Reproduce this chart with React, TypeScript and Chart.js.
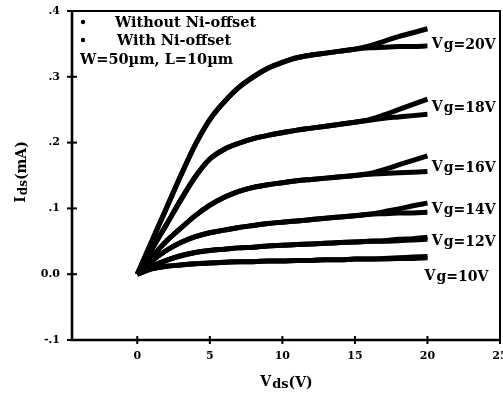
import React, { useEffect, useRef } from "react";
import { Chart, registerables } from "chart.js";

Chart.register(...registerables);

const vds = [0, 1, 2, 3, 4, 5, 6, 7, 8, 9, 10, 11, 12, 13, 14, 15, 16, 17, 18, 19, 20];

const without20 = [0, 0.05, 0.1, 0.15, 0.197, 0.235, 0.262, 0.284, 0.3, 0.313, 0.322, 0.329, 0.333, 0.336, 0.339, 0.342, 0.347, 0.354, 0.361, 0.367, 0.373];
const with20 = [0, 0.05, 0.1, 0.15, 0.197, 0.235, 0.262, 0.284, 0.3, 0.313, 0.322, 0.329, 0.333, 0.336, 0.339, 0.342, 0.344, 0.345, 0.346, 0.346, 0.347];
const without18 = [0, 0.038, 0.075, 0.113, 0.148, 0.175, 0.19, 0.199, 0.206, 0.211, 0.215, 0.219, 0.222, 0.225, 0.228, 0.231, 0.235, 0.242, 0.25, 0.258, 0.266];
const with18 = [0, 0.038, 0.075, 0.113, 0.148, 0.175, 0.19, 0.199, 0.206, 0.211, 0.215, 0.219, 0.222, 0.225, 0.228, 0.231, 0.234, 0.237, 0.239, 0.241, 0.243];
const without16 = [0, 0.026, 0.05, 0.07, 0.089, 0.105, 0.117, 0.126, 0.132, 0.136, 0.139, 0.142, 0.144, 0.146, 0.148, 0.15, 0.153, 0.159, 0.166, 0.173, 0.18];
const with16 = [0, 0.026, 0.05, 0.07, 0.089, 0.105, 0.117, 0.126, 0.132, 0.136, 0.139, 0.142, 0.144, 0.146, 0.148, 0.15, 0.152, 0.153, 0.154, 0.155, 0.156];
const without14 = [0, 0.02, 0.036, 0.048, 0.057, 0.063, 0.067, 0.071, 0.074, 0.077, 0.079, 0.081, 0.083, 0.085, 0.087, 0.089, 0.091, 0.095, 0.099, 0.104, 0.108];
const with14 = [0, 0.02, 0.036, 0.048, 0.057, 0.063, 0.067, 0.071, 0.074, 0.077, 0.079, 0.081, 0.083, 0.085, 0.087, 0.089, 0.091, 0.092, 0.093, 0.093, 0.094];
const without12 = [0, 0.012, 0.021, 0.028, 0.033, 0.036, 0.038, 0.04, 0.041, 0.043, 0.044, 0.045, 0.046, 0.047, 0.048, 0.049, 0.05, 0.051, 0.053, 0.054, 0.056];
const with12 = [0, 0.012, 0.021, 0.028, 0.033, 0.036, 0.038, 0.04, 0.041, 0.043, 0.044, 0.045, 0.046, 0.047, 0.048, 0.049, 0.05, 0.05, 0.051, 0.052, 0.053];
const without10 = [0, 0.008, 0.012, 0.014, 0.016, 0.017, 0.018, 0.019, 0.019, 0.02, 0.02, 0.021, 0.021, 0.022, 0.022, 0.023, 0.023, 0.024, 0.025, 0.026, 0.027];
const with10 = [0, 0.008, 0.012, 0.014, 0.016, 0.017, 0.018, 0.019, 0.019, 0.02, 0.02, 0.021, 0.021, 0.022, 0.022, 0.023, 0.023, 0.023, 0.024, 0.024, 0.025];

const seriesList = [without20, with20, without18, with18, without16, with16, without14, with14, without12, with12, without10, with10];

const xTicks = [0, 5, 10, 15, 20, 25];
const yTicks = [-0.1, 0, 0.1, 0.2, 0.3, 0.4];
const yTickLabels = ["-.1", "0.0", ".1", ".2", ".3", ".4"];

const gateLabels = ["g=20V", "g=18V", "g=16V", "g=14V", "g=12V", "g=10V"];
const gateLabelX = [20.3, 20.3, 20.3, 20.3, 20.3, 19.8];
const gateLabelY = [0.35, 0.253, 0.162, 0.099, 0.05, -0.003];

const legendLines = ["Without Ni-offset", "With Ni-offset", "W=50\u00b5m, L=10\u00b5m"];

const FONT = "'DejaVu Serif'";

const overlay = {
  id: "overlay",
  afterDraw(chart: any) {
    const { ctx, chartArea: a, scales } = chart;
    const xs = scales.x;
    const ys = scales.y;
    ctx.save();
    ctx.strokeStyle = "#000";
    ctx.lineWidth = 2;
    ctx.beginPath();
    ctx.moveTo(a.left, a.top);
    ctx.lineTo(a.right, a.top);
    ctx.lineTo(a.right, a.bottom);
    ctx.stroke();
    ctx.lineWidth = 2.6;
    ctx.beginPath();
    ctx.moveTo(a.left, a.top);
    ctx.lineTo(a.left, a.bottom);
    ctx.lineTo(a.right, a.bottom);
    ctx.stroke();
    ctx.lineWidth = 2;
    xTicks.forEach((v) => {
      const px = xs.getPixelForValue(v);
      ctx.beginPath();
      ctx.moveTo(px, a.bottom - 4);
      ctx.lineTo(px, a.bottom + 4);
      ctx.stroke();
    });
    yTicks.forEach((v) => {
      const py = ys.getPixelForValue(v);
      ctx.beginPath();
      ctx.moveTo(a.left - 5, py);
      ctx.lineTo(a.left + 5, py);
      ctx.stroke();
    });
    ctx.fillStyle = "#000";
    ctx.textBaseline = "middle";
    ctx.font = `bold 14.5px ${FONT}`;
    ctx.textAlign = "left";
    ctx.beginPath();
    ctx.arc(83, 22, 2.2, 0, Math.PI * 2);
    ctx.fill();
    ctx.beginPath();
    ctx.arc(83, 40, 2.2, 0, Math.PI * 2);
    ctx.fill();
    ctx.fillText(legendLines[0], 115, 23);
    ctx.fillText(legendLines[1], 117, 41);
    ctx.fillText(legendLines[2], 80, 60);
    ctx.font = `bold 14px ${FONT}`;
    gateLabels.forEach((t, i) => {
      const px = xs.getPixelForValue(gateLabelX[i]);
      const py = ys.getPixelForValue(gateLabelY[i]);
      ctx.fillText("V", px, py);
      ctx.fillText(t, px + 12, py + 1);
    });
    ctx.font = `bold 14px ${FONT}`;
    const cx = (a.left + a.right) / 2;
    const vW = ctx.measureText("V").width;
    ctx.font = `bold 13px ${FONT}`;
    const dsW = ctx.measureText("ds").width;
    ctx.font = `bold 14px ${FONT}`;
    const restW = ctx.measureText("(V)").width;
    let sx = cx - (vW + dsW + restW) / 2;
    ctx.fillText("V", sx, 382);
    ctx.font = `bold 13px ${FONT}`;
    ctx.fillText("ds", sx + vW + 1, 385);
    ctx.font = `bold 14px ${FONT}`;
    ctx.fillText("(V)", sx + vW + dsW + 1, 383);

    ctx.translate(22, (a.top + a.bottom) / 2 - 3);
    ctx.rotate(-Math.PI / 2);
    ctx.font = `bold 14px ${FONT}`;
    const iW = ctx.measureText("I").width;
    ctx.font = `bold 12px ${FONT}`;
    const ds2 = ctx.measureText("ds").width;
    ctx.font = `bold 14px ${FONT}`;
    const mA = ctx.measureText("(mA)").width;
    sx = -(iW + ds2 + mA) / 2;
    ctx.fillText("I", sx, -1);
    ctx.font = `bold 12px ${FONT}`;
    ctx.fillText("ds", sx + iW + 1, 2);
    ctx.font = `bold 14px ${FONT}`;
    ctx.fillText("(mA)", sx + iW + ds2 + 1, 0);
    ctx.restore();
  },
};

export default function App() {
  const ref = useRef<HTMLCanvasElement | null>(null);
  useEffect(() => {
    if (!ref.current) return;
    const chart = new Chart(ref.current, {
      type: "line",
      data: {
        datasets: seriesList.map((s) => ({
          data: s.map((y, i) => ({ x: vds[i], y })),
          borderColor: "#000",
          borderWidth: 5,
          pointRadius: 0,
          cubicInterpolationMode: "monotone" as const,
          fill: false,
        })),
      },
      options: {
        animation: false,
        responsive: false,
        events: [],
        layout: { padding: { left: 0, top: 11, right: 3, bottom: 0 } },
        plugins: { legend: { display: false }, tooltip: { enabled: false } },
        scales: {
          x: {
            type: "linear",
            min: -4.5,
            max: 25,
            grid: { display: false, drawTicks: false },
            border: { display: false },
            afterBuildTicks: (axis: any) => {
              axis.ticks = xTicks.map((v) => ({ value: v }));
            },
            afterFit: (axis: any) => {
              axis.height = 53;
              axis.paddingLeft = 0;
              axis.paddingRight = 0;
            },
            ticks: {
              padding: 10,
              color: "#000",
              font: { family: FONT, weight: "bold", size: 11 },
              callback: (v: any) => String(v),
              maxRotation: 0,
            },
          },
          y: {
            type: "linear",
            min: -0.1,
            max: 0.4,
            grid: { display: false, drawTicks: false },
            border: { display: false },
            afterBuildTicks: (axis: any) => {
              axis.ticks = yTicks.map((v) => ({ value: v }));
            },
            afterFit: (axis: any) => {
              axis.width = 72;
              axis.paddingTop = 0;
              axis.paddingBottom = 0;
            },
            ticks: {
              padding: 12,
              color: "#000",
              font: { family: FONT, weight: "bold", size: 11 },
              callback: (v: any) => {
                const idx = yTicks.findIndex((t) => Math.abs(t - v) < 1e-9);
                return idx >= 0 ? yTickLabels[idx] : "";
              },
            },
          },
        },
      },
      plugins: [overlay],
    });
    return () => chart.destroy();
  }, []);
  return (
    <div style={{ position: "fixed", left: 0, top: 0, width: 503, height: 393, background: "#fff" }}>
      <canvas ref={ref} width={503} height={393} style={{ width: 503, height: 393 }} />
    </div>
  );
}
